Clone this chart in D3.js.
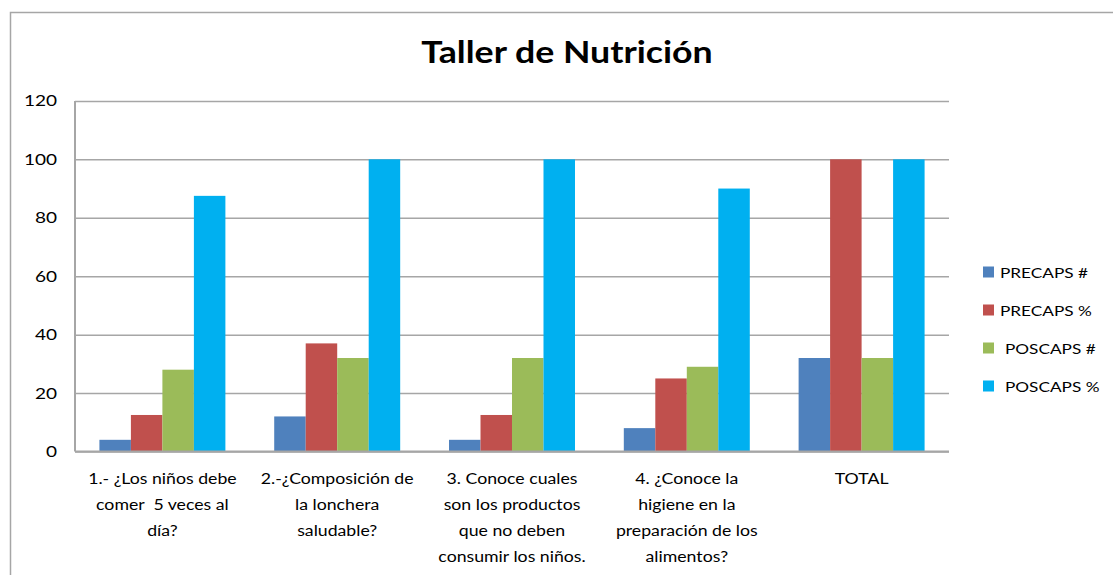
<!DOCTYPE html>
<html>
<head>
<meta charset="utf-8">
<script src="https://cdn.jsdelivr.net/npm/d3@7"></script>
<style>
  body { margin: 0; background: #fff; }
  svg text { font-family: Lato, "Open Sans", sans-serif; fill: #000; }
</style>
</head>
<body>
<svg id="chart" width="1113" height="575"></svg>
<script>
// datos
var categorias = [
    ["1.- ¿Los niños debe", "comer  5 veces al", "día?"],
    ["2.-¿Composición de", "la lonchera", "saludable?"],
    ["3. Conoce cuales", "son los productos", "que no deben", "consumir los niños."],
    ["4. ¿Conoce la", "higiene en la", "preparación de los", "alimentos?"],
    ["TOTAL"]
];
var series = ["PRECAPS #", "PRECAPS %", "POSCAPS #", "POSCAPS %"];
var colores = ["#4F81BD", "#C0504D", "#9BBB59", "#00B0F0"];
var precapsNum = [4, 12, 4, 8, 32];
var precapsPct = [12.5, 37, 12.5, 25, 100];
var poscapsNum = [28, 32, 32, 29, 32];
var poscapsPct = [87.5, 100, 100, 90, 100];
var yTicks = [0, 20, 40, 60, 80, 100, 120];

var valores = [precapsNum, precapsPct, poscapsNum, poscapsPct];

var svg = d3.select("#chart");
var margin = { left: 75, right: 949, top: 100.9, bottom: 451.5 };

// el texto del original esta estirado en horizontal
function estirar(x, y, sx) {
    return "translate(" + x + "," + y + ") scale(" + sx + ",1)";
}

// marco exterior
svg.append("path")
    .attr("d", "M10.5,575 L10.5,12.5 L1113,12.5")
    .attr("fill", "none")
    .attr("stroke", "#a6a6a6")
    .attr("stroke-width", 1.5);

svg.append("text")
    .attr("transform", estirar(567, 63, 1.19))
    .attr("text-anchor", "middle")
    .style("font-size", "30px")
    .style("font-weight", "bold")
    .text("Taller de Nutrición");

var idx = d3.range(categorias.length);

var x0 = d3.scaleBand().domain(idx).range([margin.left, margin.right]).padding(0);
var x1 = d3.scaleBand().domain(d3.range(series.length))
    .range([0, x0.bandwidth()]).paddingInner(0).paddingOuter(0.775);
var y = d3.scaleLinear().domain([0, 120]).range([margin.bottom, margin.top]);

// lineas de cuadricula
svg.append("g")
    .attr("class", "gridy")
    .attr("transform", "translate(" + margin.left + ",0)")
    .call(d3.axisLeft(y).tickValues(yTicks).tickSize(-(margin.right - margin.left)).tickFormat(""))
    .call(function (g) { g.select(".domain").remove(); })
    .selectAll("line")
    .attr("stroke", "#a6a6a6")
    .attr("stroke-width", 1.5);

// barras
var grupos = svg.append("g").selectAll("g")
    .data(idx)
    .enter().append("g")
    .attr("transform", function (i) { return "translate(" + x0(i) + ",0)"; });

grupos.selectAll("rect")
    .data(function (i) { return valores.map(function (v, s) { return { s: s, v: v[i] }; }); })
    .enter().append("rect")
    .attr("x", function (d) { return x1(d.s); })
    .attr("width", x1.bandwidth())
    .attr("y", function (d) { return y(d.v); })
    .attr("height", function (d) { return y(0) - y(d.v); })
    .attr("fill", function (d) { return colores[d.s]; });

// ejes
svg.append("line")
    .attr("x1", margin.left).attr("x2", margin.right)
    .attr("y1", y(0)).attr("y2", y(0))
    .attr("stroke", "#a6a6a6").attr("stroke-width", 2);
svg.append("line")
    .attr("x1", margin.left).attr("x2", margin.left)
    .attr("y1", y(0)).attr("y2", y(120))
    .attr("stroke", "#a6a6a6").attr("stroke-width", 2);

var yAxis = svg.append("g")
    .attr("transform", "translate(" + margin.left + ",0)")
    .call(d3.axisLeft(y).tickValues(yTicks).tickSize(0).tickPadding(18));
yAxis.select(".domain").remove();
yAxis.selectAll("text")
    .attr("x", null).attr("dy", null)
    .attr("transform", estirar(-18, 5, 1.27))
    .style("font-size", "15px")
    .style("font-family", "Lato, sans-serif")
    .attr("fill", "#000");

// etiquetas categorias
var etiquetas = svg.append("g").selectAll("text")
    .data(idx)
    .enter().append("text")
    .attr("text-anchor", "middle")
    .attr("transform", function (i) { return estirar(x0(i) + x0.bandwidth() / 2, 484, 1.18); })
    .style("font-size", "15px");

etiquetas.selectAll("tspan")
    .data(function (i) { return categorias[i]; })
    .enter().append("tspan")
    .attr("x", 0)
    .attr("dy", function (d, k) { return k === 0 ? 0 : 26; })
    .style("white-space", "pre")
    .text(function (d) { return d; });

// leyenda
var leyenda = svg.append("g").selectAll("g")
    .data(series)
    .enter().append("g")
    .attr("transform", function (d, i) { return "translate(983," + (272 + i * 38) + ")"; });

leyenda.append("rect")
    .attr("x", 0).attr("y", -5.5)
    .attr("width", 11).attr("height", 11)
    .attr("fill", function (d, i) { return colores[i]; });

leyenda.append("text")
    .attr("transform", function (d, i) { return estirar(i < 2 ? 17 : 22, 5.5, 1.23); })
    .style("font-size", "14px")
    .text(function (d) { return d; });
</script>
</body>
</html>
